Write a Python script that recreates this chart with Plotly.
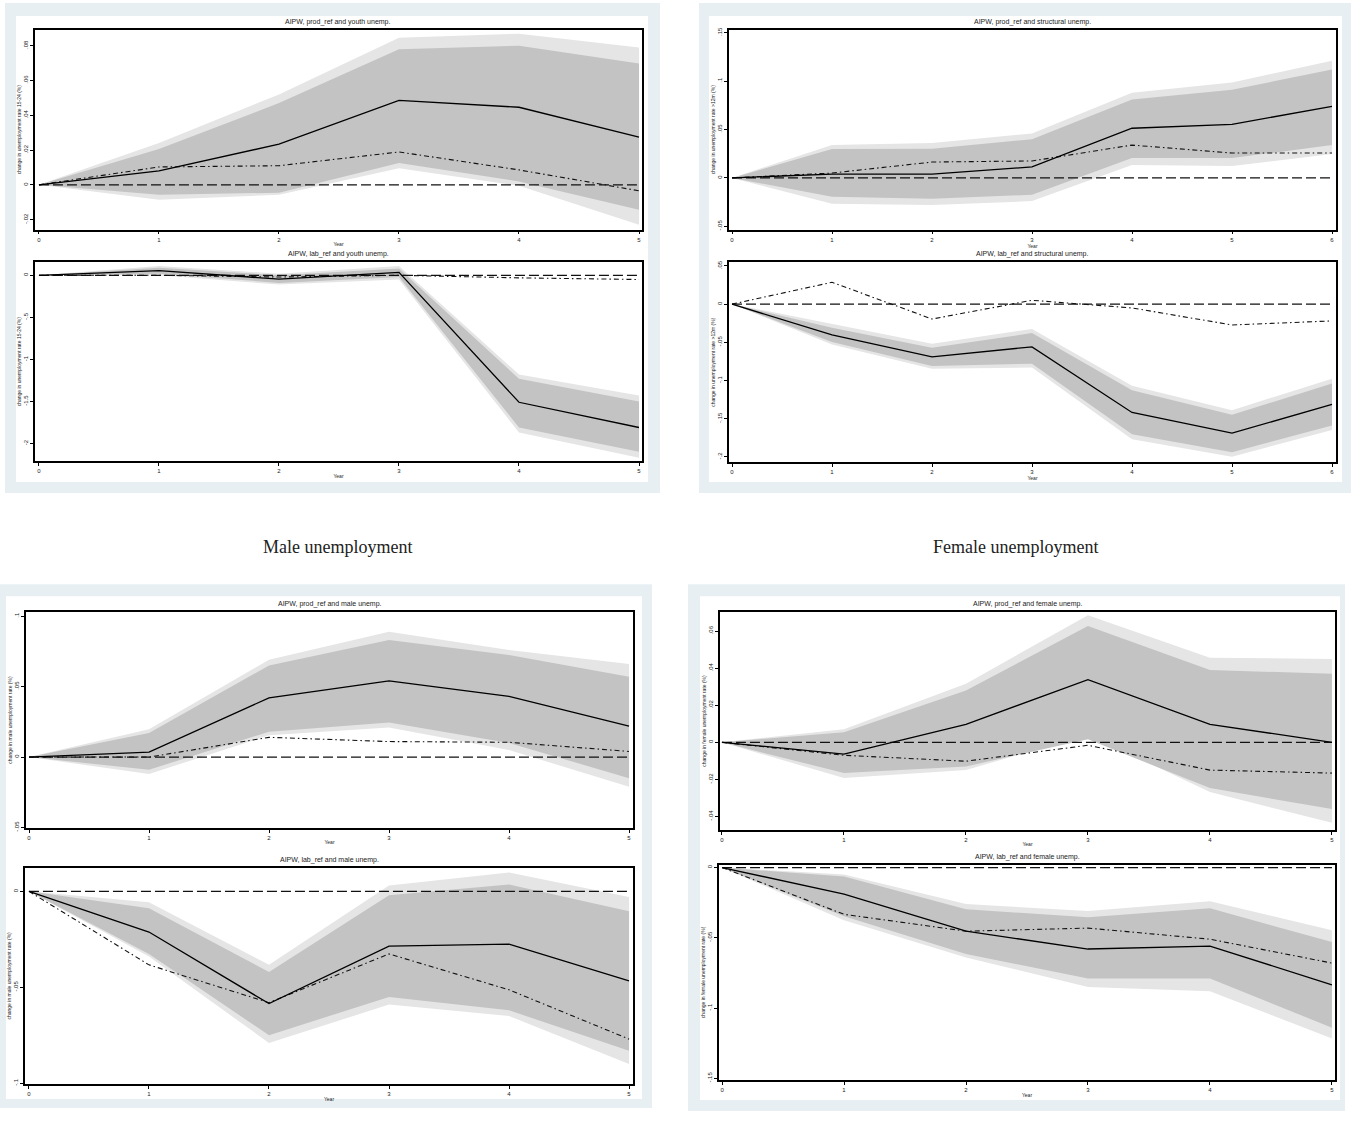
import plotly.graph_objects as go

W, H = 1351, 1122

# ---------------- data ----------------
years5 = [0, 1, 2, 3, 4, 5]
years6 = [0, 1, 2, 3, 4, 5, 6]

# Youth unemployment, prod_ref
y_prod_solid = [0, 0.008, 0.0234, 0.0486, 0.0446, 0.0274]
y_prod_dd = [0, 0.0103, 0.011, 0.0189, 0.0086, -0.0034]
y_prod_dark_up = [0, 0.0206, 0.047, 0.078, 0.080, 0.0697]
y_prod_dark_lo = [0, -0.0057, -0.0045, 0.0125, 0.002, -0.0143]
y_prod_light_up = [0, 0.024, 0.052, 0.0846, 0.0869, 0.0789]
y_prod_light_lo = [0, -0.0086, -0.0057, 0.0095, -0.0005, -0.0229]

# Youth unemployment, lab_ref
y_lab_solid = [0, 0.055, -0.045, 0.035, -1.51, -1.81]
y_lab_dd = [0, 0.0, -0.02, 0.0, -0.03, -0.05]
y_lab_dark_up = [0, 0.09, 0.0, 0.08, -1.23, -1.50]
y_lab_dark_lo = [0, 0.02, -0.09, -0.02, -1.81, -2.10]
y_lab_light_up = [0, 0.11, 0.02, 0.11, -1.18, -1.43]
y_lab_light_lo = [0, 0.0, -0.11, -0.05, -1.87, -2.17]

# Structural unemployment, prod_ref
s_prod_solid = [0, 0.004, 0.004, 0.0113, 0.0513, 0.0554, 0.0739]
s_prod_dd = [0, 0.005, 0.0164, 0.0175, 0.0339, 0.0257, 0.0257]
s_prod_dark_up = [0, 0.0298, 0.030, 0.040, 0.081, 0.091, 0.112]
s_prod_dark_lo = [0, -0.0195, -0.0215, -0.0174, 0.0205, 0.0205, 0.0339]
s_prod_light_up = [0, 0.034, 0.036, 0.046, 0.088, 0.0986, 0.121]
s_prod_light_lo = [0, -0.0267, -0.028, -0.024, 0.0134, 0.0123, 0.0247]

# Structural unemployment, lab_ref
s_lab_solid = [0, -0.0404, -0.069, -0.056, -0.142, -0.169, -0.1315]
s_lab_dd = [0, 0.0286, -0.0195, 0.005, -0.005, -0.0273, -0.022]
s_lab_dark_up = [0, -0.031, -0.057, -0.038, -0.113, -0.145, -0.104]
s_lab_dark_lo = [0, -0.0495, -0.081, -0.078, -0.1706, -0.194, -0.159]
s_lab_light_up = [0, -0.026, -0.052, -0.0326, -0.107, -0.139, -0.0977]
s_lab_light_lo = [0, -0.053, -0.0846, -0.083, -0.177, -0.200, -0.165]

# Male unemployment, prod_ref
m_prod_solid = [0, 0.0035, 0.042, 0.054, 0.043, 0.022]
m_prod_dd = [0, 0.0, 0.014, 0.011, 0.0105, 0.004]
m_prod_dark_up = [0, 0.017, 0.065, 0.083, 0.0725, 0.057]
m_prod_dark_lo = [0, -0.009, 0.018, 0.0246, 0.010, -0.015]
m_prod_light_up = [0, 0.0197, 0.069, 0.089, 0.076, 0.066]
m_prod_light_lo = [0, -0.012, 0.0155, 0.021, 0.005, -0.021]

# Male unemployment, lab_ref
m_lab_solid = [0, -0.0212, -0.0585, -0.0285, -0.0275, -0.0466]
m_lab_dd = [0, -0.0383, -0.058, -0.0326, -0.0513, -0.077]
m_lab_dark_up = [0, -0.0088, -0.042, -0.002, 0.0036, -0.0104]
m_lab_dark_lo = [0, -0.0326, -0.075, -0.055, -0.062, -0.083]
m_lab_light_up = [0, -0.0057, -0.0383, 0.003, 0.0098, -0.003]
m_lab_light_lo = [0, -0.034, -0.079, -0.059, -0.065, -0.090]

# Female unemployment, prod_ref
f_prod_solid = [0, -0.0064, 0.0097, 0.0338, 0.0097, 0.0]
f_prod_dd = [0, -0.007, -0.0102, -0.0016, -0.015, -0.0166]
f_prod_dark_up = [0, 0.0054, 0.028, 0.0627, 0.039, 0.037]
f_prod_dark_lo = [0, -0.0166, -0.013, 0.0016, -0.0247, -0.036]
f_prod_light_up = [0, 0.007, 0.0316, 0.0686, 0.0456, 0.045]
f_prod_light_lo = [0, -0.0193, -0.015, 0.0043, -0.0268, -0.0434]

# Female unemployment, lab_ref
f_lab_solid = [0, -0.019, -0.0453, -0.058, -0.0559, -0.0835]
f_lab_dd = [0, -0.0333, -0.0453, -0.0431, -0.051, -0.068]
f_lab_dark_up = [0, -0.0064, -0.0297, -0.0354, -0.029, -0.053]
f_lab_dark_lo = [0, -0.0347, -0.0615, -0.079, -0.079, -0.114]
f_lab_light_up = [0, -0.005, -0.026, -0.031, -0.024, -0.0446]
f_lab_light_lo = [0, -0.0375, -0.064, -0.085, -0.088, -0.1217]

# tick labels
ticks_youth_prod = [-0.02, 0, 0.02, 0.04, 0.06, 0.08]
ticktext_youth_prod = ["-.02", "0", ".02", ".04", ".06", ".08"]
ticks_youth_lab = [-2, -1.5, -1, -0.5, 0]
ticktext_youth_lab = ["-2", "-1.5", "-1", "-.5", "0"]
ticks_struct_prod = [-0.05, 0, 0.05, 0.1, 0.15]
ticktext_struct_prod = ["-.05", "0", ".05", ".1", ".15"]
ticks_struct_lab = [-0.2, -0.15, -0.1, -0.05, 0, 0.05]
ticktext_struct_lab = ["-.2", "-.15", "-.1", "-.05", "0", ".05"]
ticks_male_prod = [-0.05, 0, 0.05, 0.1]
ticktext_male_prod = ["-.05", "0", ".05", ".1"]
ticks_male_lab = [-0.1, -0.05, 0]
ticktext_male_lab = ["-.1", "-.05", "0"]
ticks_female_prod = [-0.04, -0.02, 0, 0.02, 0.04, 0.06]
ticktext_female_prod = ["-.04", "-.02", "0", ".02", ".04", ".06"]
ticks_female_lab = [-0.15, -0.1, -0.05, 0]
ticktext_female_lab = ["-.15", "-.1", "-.05", "0"]

titles = [
    "AIPW, prod_ref and youth unemp.",
    "AIPW, lab_ref and youth unemp.",
    "AIPW, prod_ref and structural unemp.",
    "AIPW, lab_ref and structural unemp.",
    "AIPW, prod_ref and male unemp.",
    "AIPW, lab_ref and male unemp.",
    "AIPW, prod_ref and female unemp.",
    "AIPW, lab_ref and female unemp.",
]
ytitles = [
    "change in unemployment rate 15-24 (%)",
    "change in unemployment rate 15-24 (%)",
    "change in unemployment rate >12m (%)",
    "change in unemployment rate >12m (%)",
    "change in male unemployment rate (%)",
    "change in male unemployment rate (%)",
    "change in female unemployment rate (%)",
    "change in female unemployment rate (%)",
]
captions = ["Male unemployment", "Female unemployment"]

# ---------------- layout geometry (pixels) ----------------
series = [
    (years5, y_prod_solid, y_prod_dd, y_prod_dark_up, y_prod_dark_lo, y_prod_light_up, y_prod_light_lo, ticks_youth_prod, ticktext_youth_prod),
    (years5, y_lab_solid, y_lab_dd, y_lab_dark_up, y_lab_dark_lo, y_lab_light_up, y_lab_light_lo, ticks_youth_lab, ticktext_youth_lab),
    (years6, s_prod_solid, s_prod_dd, s_prod_dark_up, s_prod_dark_lo, s_prod_light_up, s_prod_light_lo, ticks_struct_prod, ticktext_struct_prod),
    (years6, s_lab_solid, s_lab_dd, s_lab_dark_up, s_lab_dark_lo, s_lab_light_up, s_lab_light_lo, ticks_struct_lab, ticktext_struct_lab),
    (years5, m_prod_solid, m_prod_dd, m_prod_dark_up, m_prod_dark_lo, m_prod_light_up, m_prod_light_lo, ticks_male_prod, ticktext_male_prod),
    (years5, m_lab_solid, m_lab_dd, m_lab_dark_up, m_lab_dark_lo, m_lab_light_up, m_lab_light_lo, ticks_male_lab, ticktext_male_lab),
    (years5, f_prod_solid, f_prod_dd, f_prod_dark_up, f_prod_dark_lo, f_prod_light_up, f_prod_light_lo, ticks_female_prod, ticktext_female_prod),
    (years5, f_lab_solid, f_lab_dd, f_lab_dark_up, f_lab_dark_lo, f_lab_light_up, f_lab_light_lo, ticks_female_lab, ticktext_female_lab),
]

boxes = [  # left, top, right, bottom of plot region
    (35, 27, 642, 228),
    (35, 261, 642, 461),
    (729, 27, 1336, 228),
    (729, 261, 1336, 462),
    (26, 613, 633, 830),
    (25, 870, 633, 1088),
    (720, 613, 1335, 832),
    (719, 867, 1335, 1084),
]
xranges = [
    (-0.033, 5.025), (-0.033, 5.025),
    (-0.03, 6.04), (-0.03, 6.04),
    (-0.025, 5.033), (-0.033, 5.033),
    (-0.016, 5.025), (-0.025, 5.025),
]
yranges = [
    (-0.0257, 0.0891), (-2.21, 0.154),
    (-0.0534, 0.153), (-0.207, 0.0547),
    (-0.0502, 0.1028), (-0.1005, 0.0124),
    (-0.0472, 0.0702), (-0.1514, 0.0021),
]
frames = [  # outer (l,t,r,b), inner (l,t,r,b)
    ((5, 0, 660, 493), (16, 13, 648, 482)),
    ((699, 0, 1351, 493), (709, 13, 1342, 482)),
    ((0, 585, 652, 1112), (6, 597, 642, 1103)),
    ((688, 585, 1345, 1115), (700, 597, 1340, 1104)),
]
caption_pos = [(337, 547), (1015, 547)]

FONT = "Liberation Sans, Arial, sans-serif"
LIGHT = "#e5e5e5"
DARK = "#c3c3c3"
FRAME = "#e8eff2"


def fx(p):
    return p / W


def fy(p):
    return 1 - p / H


fig = go.Figure()
shapes = []
annotations = []

for (o, i) in frames:
    shapes.append(dict(type="rect", xref="paper", yref="paper", layer="below",
                       x0=fx(o[0]), x1=fx(o[2]), y0=fy(o[3]), y1=fy(o[1]),
                       fillcolor=FRAME, line=dict(width=0)))
    shapes.append(dict(type="rect", xref="paper", yref="paper", layer="below",
                       x0=fx(i[0]), x1=fx(i[2]), y0=fy(i[3]), y1=fy(i[1]),
                       fillcolor="white", line=dict(width=0)))

layout_axes = {}
for k, (s, box, xr, yr, title, ytitle) in enumerate(zip(series, boxes, xranges, yranges, titles, ytitles)):
    yrs, solid, dd, dup, dlo, lup, llo, tv, tt = s
    n = k + 1
    xa = "x" if n == 1 else f"x{n}"
    ya = "y" if n == 1 else f"y{n}"
    zero = [0 for _ in yrs]
    fig.add_trace(go.Scatter(x=yrs + yrs[::-1], y=lup + llo[::-1], xaxis=xa, yaxis=ya,
                             fill="toself", fillcolor=LIGHT, mode="lines",
                             line=dict(width=0, color=LIGHT), hoverinfo="skip", showlegend=False))
    fig.add_trace(go.Scatter(x=yrs + yrs[::-1], y=dup + dlo[::-1], xaxis=xa, yaxis=ya,
                             fill="toself", fillcolor=DARK, mode="lines",
                             line=dict(width=0, color=DARK), hoverinfo="skip", showlegend=False))
    fig.add_trace(go.Scatter(x=yrs, y=zero, xaxis=xa, yaxis=ya, mode="lines",
                             line=dict(color="#111111", width=1.3, dash="10px,4px"), showlegend=False))
    fig.add_trace(go.Scatter(x=yrs, y=dd, xaxis=xa, yaxis=ya, mode="lines",
                             line=dict(color="#111111", width=1.1, dash="5px,3px,1.5px,3px"), showlegend=False))
    fig.add_trace(go.Scatter(x=yrs, y=solid, xaxis=xa, yaxis=ya, mode="lines",
                             line=dict(color="black", width=1.3), showlegend=False))

    l, t, r, b = box
    common = dict(showgrid=False, zeroline=False, showline=True, linecolor="black",
                  linewidth=1.5, mirror=True, ticks="outside", ticklen=3, tickwidth=1,
                  tickcolor="black", tickfont=dict(family=FONT, size=6, color="#222"))
    layout_axes["xaxis" if n == 1 else f"xaxis{n}"] = dict(
        domain=[fx(l), fx(r)], range=list(xr), anchor=ya,
        tickmode="array", tickvals=yrs, ticktext=[str(v) for v in yrs],
        title=dict(text="Year", font=dict(family=FONT, size=5, color="#222"), standoff=1),
        **common)
    layout_axes["yaxis" if n == 1 else f"yaxis{n}"] = dict(
        domain=[fy(b), fy(t)], range=list(yr), anchor=xa,
        tickmode="array", tickvals=tv, ticktext=tt, tickangle=-90,
        title=dict(text=ytitle, font=dict(family=FONT, size=5, color="#222"), standoff=1),
        **common)
    annotations.append(dict(text=title, xref="paper", yref="paper",
                            x=fx((l + r) / 2), y=fy(t - 2), xanchor="center", yanchor="bottom",
                            showarrow=False, font=dict(family=FONT, size=7, color="#222")))

for cap, (cx, cy) in zip(captions, caption_pos):
    annotations.append(dict(text=cap, xref="paper", yref="paper", x=fx(cx), y=fy(cy),
                            xanchor="center", yanchor="middle", showarrow=False,
                            font=dict(family="Liberation Serif, Times New Roman, serif", size=18, color="#222")))

fig.update_layout(width=W, height=H, margin=dict(l=0, r=0, t=0, b=0),
                  paper_bgcolor="white", plot_bgcolor="white",
                  shapes=shapes, annotations=annotations, showlegend=False,
                  **layout_axes)

fig.write_html("out.html", config={"displayModeBar": False},
               post_script="document.body.style.margin='0';document.body.style.overflow='hidden';")
